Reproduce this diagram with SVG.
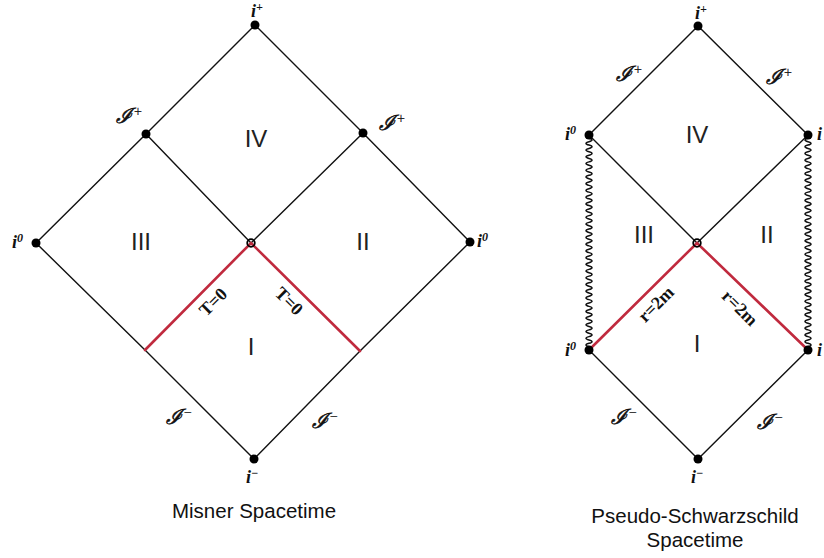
<svg xmlns="http://www.w3.org/2000/svg" width="824" height="558" viewBox="0 0 824 558">
<style>
.ln{stroke:#111;stroke-width:1.4;fill:none;stroke-linecap:round}
.rd{stroke:#c02a3e;stroke-width:2.6;fill:none;stroke-linecap:round}
.wv{stroke:#111;stroke-width:1.5;fill:none}
.dot{fill:#000}
.ring{fill:none;stroke:#000;stroke-width:1.8}
.pt{font-family:"Liberation Serif",serif;font-style:italic;font-weight:bold;font-size:18px;fill:#111}
.sup{font-size:12px}
.scr{font-family:"DejaVu Serif","Liberation Serif",serif;font-style:italic;font-size:21px;fill:#111;stroke:#111;stroke-width:0.6}
.ssup{font-family:"Liberation Serif",serif;font-style:normal;font-size:14px;stroke-width:0.2}
.rg{font-family:"Liberation Sans",Arial,sans-serif;font-size:24px;fill:#222;text-anchor:middle}
.hz{font-family:"Liberation Serif",serif;font-weight:bold;font-size:18px;fill:#111;text-anchor:middle}
.ttl{font-family:"Liberation Sans",Arial,sans-serif;font-size:20.5px;fill:#111;text-anchor:middle}
</style>
<rect width="824" height="558" fill="#fff"/>
<g id="connectors">
  <polyline class="ln" points="36,243 146,134 255,25 363,133 470,242"/>
  <polyline class="ln" points="36,243 145,350 254,459 360,351 470,242"/>
  <polyline class="ln" points="146,134 251,243 363,133"/>
  <polyline class="rd" points="145,350 251,243 360,351"/>
  <polyline class="ln" points="589,135 698,26 808,135"/>
  <polyline class="ln" points="589,350 698,459 808,350"/>
  <polyline class="ln" points="589,135 697,243 808,135"/>
  <polyline class="rd" points="589,350 697,243 808,350"/>
  <path class="wv" d="M589,135 q-6,1.68 0,3.36 t0,3.36 t0,3.36 t0,3.36 t0,3.36 t0,3.36 t0,3.36 t0,3.36 t0,3.36 t0,3.36 t0,3.36 t0,3.36 t0,3.36 t0,3.36 t0,3.36 t0,3.36 t0,3.36 t0,3.36 t0,3.36 t0,3.36 t0,3.36 t0,3.36 t0,3.36 t0,3.36 t0,3.36 t0,3.36 t0,3.36 t0,3.36 t0,3.36 t0,3.36 t0,3.36 t0,3.36 t0,3.36 t0,3.36 t0,3.36 t0,3.36 t0,3.36 t0,3.36 t0,3.36 t0,3.36 t0,3.36 t0,3.36 t0,3.36 t0,3.36 t0,3.36 t0,3.36 t0,3.36 t0,3.36 t0,3.36 t0,3.36 t0,3.36 t0,3.36 t0,3.36 t0,3.36 t0,3.36 t0,3.36 t0,3.36 t0,3.36 t0,3.36 t0,3.36 t0,3.36 t0,3.36 t0,3.36 t0,3.36"/>
  <path class="wv" d="M808,135 q6,1.68 0,3.36 t0,3.36 t0,3.36 t0,3.36 t0,3.36 t0,3.36 t0,3.36 t0,3.36 t0,3.36 t0,3.36 t0,3.36 t0,3.36 t0,3.36 t0,3.36 t0,3.36 t0,3.36 t0,3.36 t0,3.36 t0,3.36 t0,3.36 t0,3.36 t0,3.36 t0,3.36 t0,3.36 t0,3.36 t0,3.36 t0,3.36 t0,3.36 t0,3.36 t0,3.36 t0,3.36 t0,3.36 t0,3.36 t0,3.36 t0,3.36 t0,3.36 t0,3.36 t0,3.36 t0,3.36 t0,3.36 t0,3.36 t0,3.36 t0,3.36 t0,3.36 t0,3.36 t0,3.36 t0,3.36 t0,3.36 t0,3.36 t0,3.36 t0,3.36 t0,3.36 t0,3.36 t0,3.36 t0,3.36 t0,3.36 t0,3.36 t0,3.36 t0,3.36 t0,3.36 t0,3.36 t0,3.36 t0,3.36 t0,3.36"/>
</g>

<g id="m-iplus"><circle class="dot" cx="255" cy="25" r="4.5"/><text class="pt" x="251" y="17">i<tspan class="sup" dy="-6">+</tspan></text></g>
<g id="m-scriplus-left"><circle class="dot" cx="146" cy="134" r="4.5"/><text class="scr" x="116" y="123">ℐ<tspan class="ssup" dx="2" dy="-7">+</tspan></text></g>
<g id="m-scriplus-right"><circle class="dot" cx="363" cy="133" r="4.5"/><text class="scr" x="379" y="130">ℐ<tspan class="ssup" dx="2" dy="-7">+</tspan></text></g>
<g id="m-i0-left"><circle class="dot" cx="36" cy="243" r="4.5"/><text class="pt" x="12" y="248">i<tspan class="sup" dy="-6">0</tspan></text></g>
<g id="m-i0-right"><circle class="dot" cx="470" cy="242" r="4.5"/><text class="pt" x="477" y="247">i<tspan class="sup" dy="-6">0</tspan></text></g>
<g id="m-center"><circle class="ring" cx="251" cy="243" r="3.8"/></g>
<g id="m-iminus"><circle class="dot" cx="254" cy="459" r="4.5"/><text class="pt" x="246" y="483">i<tspan class="sup" dy="-6">−</tspan></text></g>
<g id="m-scrim-left"><text class="scr" x="166" y="424">ℐ<tspan class="ssup" dx="2" dy="-7">−</tspan></text></g>
<g id="m-scrim-right"><text class="scr" x="312" y="428">ℐ<tspan class="ssup" dx="2" dy="-7">−</tspan></text></g>
<g id="m-IV"><text class="rg" x="256" y="147">IV</text></g>
<g id="m-III"><text class="rg" x="141" y="250">III</text></g>
<g id="m-II"><text class="rg" x="363" y="250">II</text></g>
<g id="m-I"><text class="rg" x="251" y="355">I</text></g>
<g id="m-T0-left"><text class="hz" transform="translate(213,302) rotate(-45)" y="6">T=0</text></g>
<g id="m-T0-right"><text class="hz" transform="translate(289,301) rotate(45)" y="6">T=0</text></g>
<g id="m-title"><text class="ttl" x="254" y="518">Misner Spacetime</text></g>

<g id="p-iplus"><circle class="dot" cx="698" cy="26" r="4.5"/><text class="pt" x="695" y="19">i<tspan class="sup" dy="-6">+</tspan></text></g>
<g id="p-scriplus-left"><text class="scr" x="616" y="81">ℐ<tspan class="ssup" dx="2" dy="-7">+</tspan></text></g>
<g id="p-scriplus-right"><text class="scr" x="766" y="84">ℐ<tspan class="ssup" dx="2" dy="-7">+</tspan></text></g>
<g id="p-i0-upleft"><circle class="dot" cx="589" cy="135" r="4.5"/><text class="pt" x="565" y="140">i<tspan class="sup" dy="-6">0</tspan></text></g>
<g id="p-i-upright"><circle class="dot" cx="808" cy="135" r="4.5"/><text class="pt" x="817" y="140">i</text></g>
<g id="p-center"><circle class="ring" cx="697" cy="243" r="3.8"/></g>
<g id="p-i0-lowleft"><circle class="dot" cx="589" cy="350" r="4.5"/><text class="pt" x="565" y="356">i<tspan class="sup" dy="-6">0</tspan></text></g>
<g id="p-i-lowright"><circle class="dot" cx="808" cy="350" r="4.5"/><text class="pt" x="817" y="356">i</text></g>
<g id="p-iminus"><circle class="dot" cx="698" cy="459" r="4.5"/><text class="pt" x="691" y="483">i<tspan class="sup" dy="-6">−</tspan></text></g>
<g id="p-scrim-left"><text class="scr" x="611" y="424">ℐ<tspan class="ssup" dx="2" dy="-7">−</tspan></text></g>
<g id="p-scrim-right"><text class="scr" x="757" y="429">ℐ<tspan class="ssup" dx="2" dy="-7">−</tspan></text></g>
<g id="p-IV"><text class="rg" x="697" y="143">IV</text></g>
<g id="p-III"><text class="rg" x="644" y="243">III</text></g>
<g id="p-II"><text class="rg" x="767" y="243">II</text></g>
<g id="p-I"><text class="rg" x="697" y="352">I</text></g>
<g id="p-r2m-left"><text class="hz" transform="translate(656,304) rotate(-45)" y="6">r=2m</text></g>
<g id="p-r2m-right"><text class="hz" transform="translate(740,308) rotate(45)" y="6">r=2m</text></g>
<g id="p-title"><text class="ttl" x="695" y="523">Pseudo-Schwarzschild</text><text class="ttl" x="695" y="547">Spacetime</text></g>
</svg>
